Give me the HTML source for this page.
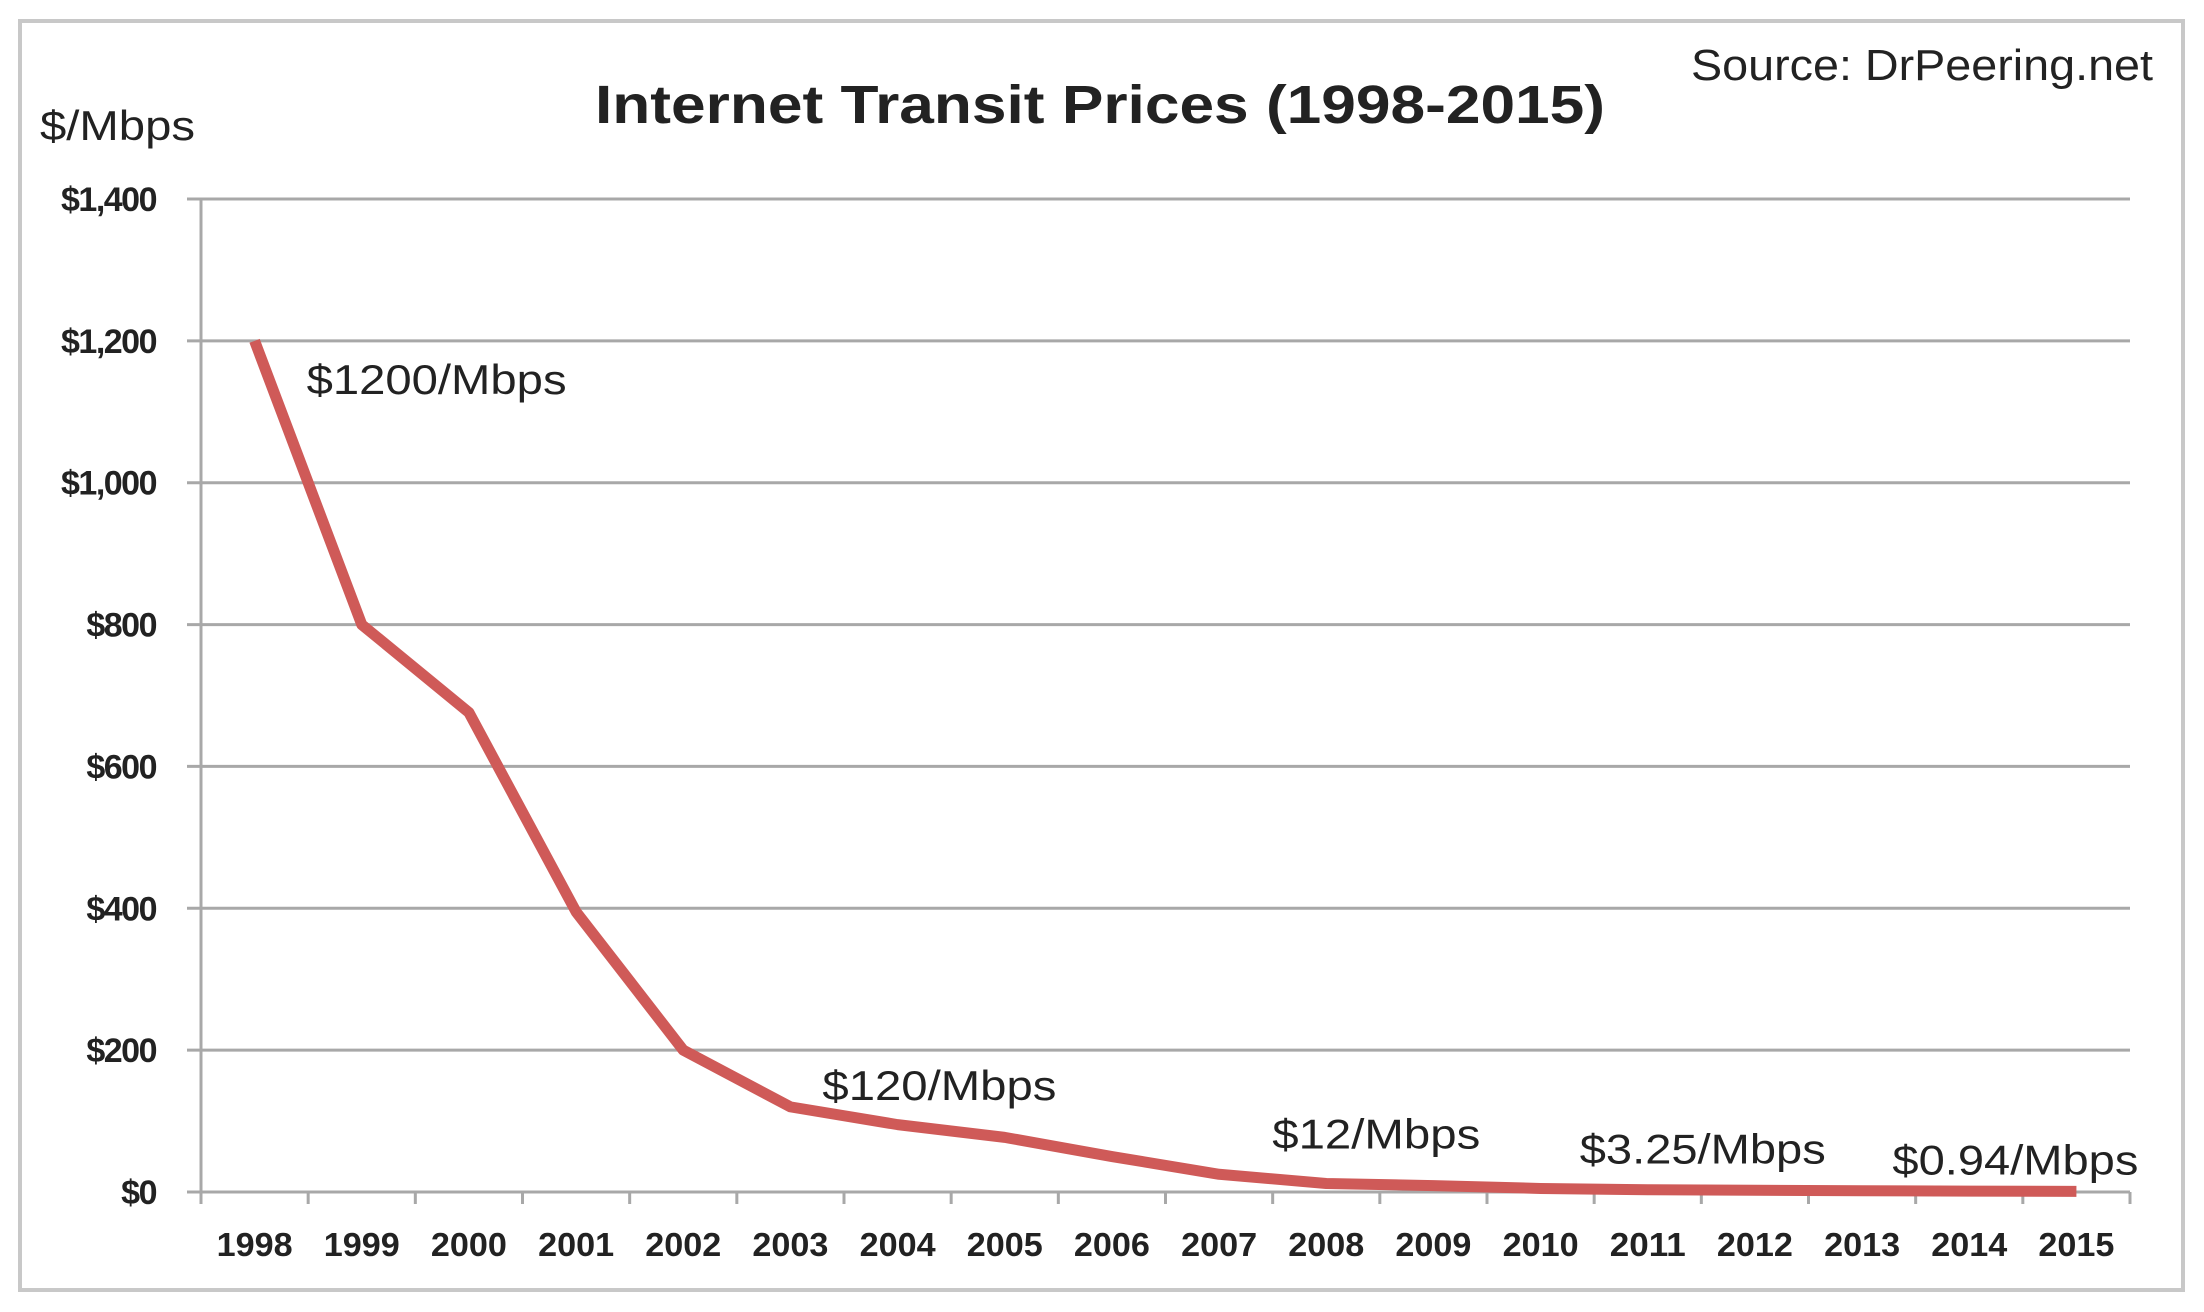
<!DOCTYPE html>
<html><head><meta charset="utf-8"><style>
html,body{margin:0;padding:0;background:#fff;}
svg{display:block;}
text{font-family:"Liberation Sans",sans-serif;fill:#222;}
</style></head><body>
<svg id="chart" width="2204" height="1312" viewBox="0 0 2204 1312">
<rect x="20" y="21" width="2163" height="1269" fill="#fff" stroke="#c8c8c8" stroke-width="4"/>
<text x="1100" y="123" text-anchor="middle" font-size="54" font-weight="bold" textLength="1010" lengthAdjust="spacingAndGlyphs">Internet Transit Prices (1998-2015)</text>
<text x="1691" y="80" font-size="44" textLength="462" lengthAdjust="spacingAndGlyphs">Source: DrPeering.net</text>
<text x="40" y="140" font-size="42" textLength="155" lengthAdjust="spacingAndGlyphs">$/Mbps</text>
<g id="grid"></g><g id="axes"></g><g id="series"></g><g id="notes"></g>
</svg>
<script>
const categories=["1998","1999","2000","2001","2002","2003","2004","2005","2006","2007","2008","2009","2010","2011","2012","2013","2014","2015"];
const prices=[1200,800,676,395,200,120,95,77,50,25,12,9,5,3.25,2.5,1.8,1.3,0.94];
const yTicks=[0,200,400,600,800,1000,1200,1400];
const yTickLabels=["$0","$200","$400","$600","$800","$1,000","$1,200","$1,400"];
const noteTexts=["$1200/Mbps","$120/Mbps","$12/Mbps","$3.25/Mbps","$0.94/Mbps"];
const noteIdx=[0,5,10,13,17];
const NS="http://www.w3.org/2000/svg";
const L=201,R=2130,T=199,B=1192,YMAX=1400;
const bw=(R-L)/categories.length;
const x=i=>L+bw*(i+0.5);
const y=v=>B-(v/YMAX)*(B-T);
function mk(t,a,p){const e=document.createElementNS(NS,t);for(const k in a)e.setAttribute(k,a[k]);p.appendChild(e);return e;}
const grid=document.getElementById('grid'),axes=document.getElementById('axes'),series=document.getElementById('series'),notes=document.getElementById('notes');
yTicks.forEach((v,i)=>{
 if(v>0){const g=mk('line',{x1:L-14,x2:R,y1:y(v),y2:y(v),stroke:'#a8a8a8','stroke-width':3},grid);
 
 }
 const t=mk('text',{x:156,y:y(v)+12,'text-anchor':'end','font-size':34,'font-weight':'bold','letter-spacing':-1.5,fill:'#333'},axes);
 t.textContent=yTickLabels[i];
 
 
});
const ya=mk('line',{x1:L,x2:L,y1:T,y2:B,stroke:'#a8a8a8','stroke-width':3},axes);


const xa=mk('line',{x1:L-14,x2:R,y1:B,y2:B,stroke:'#a8a8a8','stroke-width':3},axes);


for(let i=0;i<=categories.length;i++){
 const tk=mk('line',{x1:L+bw*i,x2:L+bw*i,y1:B,y2:B+12,stroke:'#a8a8a8','stroke-width':3},axes);
 
 
}
categories.forEach((c,i)=>{
 const t=mk('text',{x:x(i),y:1256,'text-anchor':'middle','font-size':33,'font-weight':'bold',fill:'#333',textLength:76,lengthAdjust:'spacingAndGlyphs'},axes);
 t.textContent=c;
 
 
});
const pl=mk('polyline',{points:prices.map((v,i)=>x(i)+','+y(v)).join(' '),fill:'none',stroke:'#cf5a58','stroke-width':11,'stroke-linejoin':'round'},series);


const noteOff=[[52,53],[32,-7],[-54,-35],[-68,-26],[-184,-17]];
noteIdx.forEach((idx,k)=>{
 const t=mk('text',{x:x(idx)+noteOff[k][0],y:y(prices[idx])+noteOff[k][1],'font-size':42,textLength:[260,234,208,246,246][k],lengthAdjust:'spacingAndGlyphs'},notes);
 t.textContent=noteTexts[k];
 
 
});
</script>
</body></html>
